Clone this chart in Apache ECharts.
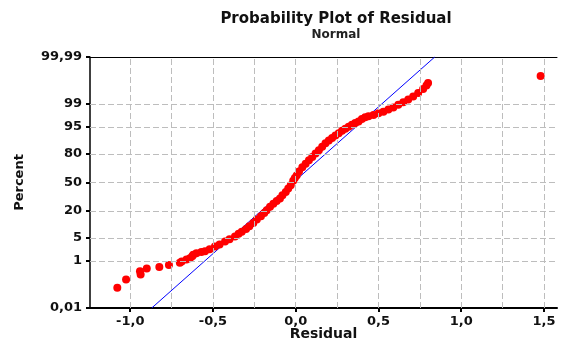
<!DOCTYPE html>
<html>
<head>
<meta charset="utf-8">
<script src="https://cdn.jsdelivr.net/npm/echarts@6/dist/echarts.min.js"></script>
<style>html,body{margin:0;padding:0;background:#fff}#c{width:561px;height:342px}</style>
</head>
<body>
<div id="c"></div>
<script>
// Data
const residuals = [-1.078,-1.025,-0.937,-0.941,-0.90,-0.824,-0.766,-0.70,-0.689,-0.66,-0.639,-0.625,-0.619,-0.60,-0.57,-0.548,-0.52,-0.488,-0.46,-0.427,-0.40,-0.367,-0.345,-0.326,-0.30,-0.28,-0.256,-0.235,-0.21,-0.19,-0.175,-0.155,-0.135,-0.115,-0.095,-0.08,-0.06,-0.045,-0.03,-0.015,-0.005,0.006,0.02,0.04,0.06,0.08,0.10,0.12,0.14,0.16,0.18,0.20,0.22,0.24,0.26,0.28,0.30,0.32,0.34,0.36,0.38,0.40,0.42,0.44,0.47,0.50,0.53,0.56,0.59,0.62,0.65,0.68,0.71,0.74,0.77,0.79,0.80,1.48];
const percents = [0.09,0.20,0.32,0.43,0.54,0.62,0.73,0.87,0.96,1.13,1.25,1.43,1.62,1.79,1.97,2.07,2.39,2.87,3.29,4.01,4.65,5.48,6.43,7.21,8.38,9.68,11.5,13.6,15.9,18.4,20.6,23.6,26.4,29.1,31.9,35.2,39.0,42.9,46.8,52.0,55.2,58.1,62.9,67.4,71.2,74.5,77.6,80.5,83.1,85.5,87.7,89.4,90.66,91.77,92.78,93.7,94.41,95.05,95.64,96.08,96.49,96.99,97.32,97.5,97.72,97.98,98.21,98.46,98.68,98.93,99.13,99.31,99.46,99.60,99.72,99.80,99.84,99.92];
const fitResiduals = [-0.87, 0.84];
const fitPercents = [0.01, 99.99];
const yTickPercents = [0.01, 1, 5, 20, 50, 80, 95, 99, 99.99];
const yTickLabels = ['0,01', '1', '5', '20', '50', '80', '95', '99', '99,99'];
const yGridPercents = [1, 5, 20, 50, 80, 95, 99];
const xTicks = [-1.0, -0.5, 0.0, 0.5, 1.0, 1.5];
const xGrid = [-1.0, -0.75, -0.5, -0.25, 0.0, 0.25, 0.5, 0.75, 1.0, 1.25, 1.5];

// Normal probability scale (inverse normal CDF)
function probit(p){
  const a=[-3.969683028665376e+01,2.209460984245205e+02,-2.759285104469687e+02,1.383577518672690e+02,-3.066479806614716e+01,2.506628277459239e+00];
  const b=[-5.447609879822406e+01,1.615858368580409e+02,-1.556989798598866e+02,6.680131188771972e+01,-1.328068155288572e+01];
  const c=[-7.784894002430293e-03,-3.223964580411365e-01,-2.400758277161838e+00,-2.549732539343734e+00,4.374664141464968e+00,2.938163982698783e+00];
  const d=[7.784695709041462e-03,3.224671290700398e-01,2.445134137142996e+00,3.754408661907416e+00];
  const pl=0.02425, ph=1-pl; let q,r;
  if(p<pl){q=Math.sqrt(-2*Math.log(p));return (((((c[0]*q+c[1])*q+c[2])*q+c[3])*q+c[4])*q+c[5])/((((d[0]*q+d[1])*q+d[2])*q+d[3])*q+1);}
  if(p<=ph){q=p-0.5;r=q*q;return (((((a[0]*r+a[1])*r+a[2])*r+a[3])*r+a[4])*r+a[5])*q/(((((b[0]*r+b[1])*r+b[2])*r+b[3])*r+b[4])*r+1);}
  q=Math.sqrt(-2*Math.log(1-p));return -(((((c[0]*q+c[1])*q+c[2])*q+c[3])*q+c[4])*q+c[5])/((((d[0]*q+d[1])*q+d[2])*q+d[3])*q+1);
}
const pz = p => probit(p/100);
const yTickZ = yTickPercents.map(pz);
const zMin = pz(0.01), zMax = pz(99.99);

const font = 'DejaVu Sans';
const chart = echarts.init(document.getElementById('c'), null, {renderer:'canvas'});
const gridLine = {type:[6,3], color:'#bdbdbd', width:1};
chart.setOption({
  animation:false,
  backgroundColor:'#fff',
  title:{
    text:'Probability Plot of Residual', subtext:'Normal',
    left:331, top:7, textAlign:'center', itemGap:2,
    textStyle:{fontFamily:font, fontWeight:'bold', fontSize:15, color:'#111'},
    subtextStyle:{fontFamily:font, fontWeight:'bold', fontSize:12, color:'#222'}
  },
  grid:{left:90, top:57, right:4, bottom:34, containLabel:false, outerBoundsMode:'none'},
  xAxis:[{
    type:'value', min:-1.243, max:1.579,
    name:'Residual', nameLocation:'middle', nameGap:19, nameMoveOverlap:false,
    nameTextStyle:{fontFamily:font, fontWeight:'bold', fontSize:14, color:'#111'},
    axisLine:{show:true, onZero:false, lineStyle:{color:'#000', width:2}},
    axisTick:{show:true, length:4, customValues:xTicks, lineStyle:{color:'#000', width:2}},
    axisLabel:{customValues:xTicks, margin:7, fontFamily:font, fontWeight:'bold', fontSize:13, color:'#111',
      formatter:v=>v.toFixed(1).replace('.',',')},
    splitLine:{show:false}
  },{
    type:'value', position:'top', min:-1.243, max:1.579,
    axisLine:{show:true, onZero:false, lineStyle:{color:'#000', width:1}},
    axisTick:{show:false}, axisLabel:{show:false}, splitLine:{show:false}
  }],
  yAxis:{
    type:'value', min:zMin, max:zMax,
    name:'Percent', nameLocation:'middle', nameGap:64, nameRotate:90, nameMoveOverlap:false,
    nameTextStyle:{fontFamily:font, fontWeight:'bold', fontSize:13, color:'#111'},
    axisLine:{show:true, onZero:false, lineStyle:{color:'#000', width:1.5}},
    axisTick:{show:true, length:4, customValues:yTickZ, lineStyle:{color:'#000', width:2}},
    axisLabel:{customValues:yTickZ, margin:8, fontFamily:font, fontWeight:'bold', fontSize:13, color:'#111',
      formatter:v=>{let best=0;for(let i=1;i<yTickZ.length;i++){if(Math.abs(yTickZ[i]-v)<Math.abs(yTickZ[best]-v))best=i;}return yTickLabels[best];}},
    splitLine:{show:false}
  },
  series:[{
    type:'scatter', data:[], z:1, silent:true,
    markLine:{silent:true, symbol:'none', label:{show:false}, lineStyle:gridLine, animation:false,
      data:[...xGrid.map(v=>({xAxis:v})), ...yGridPercents.map(p=>({yAxis:pz(p)}))]}
  },{
    type:'line', z:2, silent:true,
    data:fitResiduals.map((r,i)=>[r, pz(fitPercents[i])]),
    showSymbol:false, lineStyle:{color:'#0000ff', width:1}
  },{
    type:'scatter', z:3, silent:true,
    data:residuals.map((r,i)=>[r, pz(percents[i])]),
    symbol:'circle', symbolSize:8, itemStyle:{color:'#ff0000', opacity:1}
  }]
});
</script>
</body>
</html>
